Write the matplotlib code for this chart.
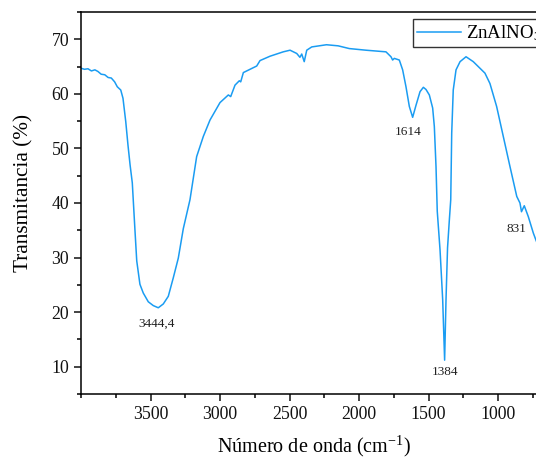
import numpy as np
import matplotlib.pyplot as plt
from matplotlib.ticker import MultipleLocator

plt.rcParams['font.family'] = ['Liberation Serif', 'DejaVu Serif']
plt.rcParams['mathtext.default'] = 'regular'

# FTIR spectrum of ZnAlNO3 (wavenumber in cm-1, transmittance in %)
wavenumber = [4000, 3975, 3950, 3925, 3900, 3878, 3855, 3829, 3805, 3782, 3758,
              3739, 3714, 3698, 3678, 3662, 3647, 3631, 3612, 3599, 3576, 3552,
              3516, 3480, 3444, 3408, 3372, 3336, 3300, 3264, 3216, 3168, 3120,
              3072, 3000, 2940, 2923, 2892, 2861, 2851, 2832, 2736, 2712, 2640,
              2545, 2496, 2448, 2425, 2412, 2394, 2376, 2340, 2234, 2150, 2070,
              1950, 1806, 1770, 1758, 1746, 1710, 1686, 1662, 1638, 1614, 1590,
              1561, 1537, 1518, 1494, 1470, 1458, 1446, 1437, 1417, 1398, 1384,
              1374, 1363, 1350, 1340, 1333, 1322, 1302, 1273, 1230, 1178, 1094,
              1058, 1010, 962, 914, 865, 842, 831, 811, 782, 746, 727, 700]
transmittance = [64.7, 64.5, 64.6, 64.2, 64.4, 64.1, 63.6, 63.5, 63.0, 62.9, 62.2,
                 61.3, 60.7, 59.2, 54.9, 50.6, 47.0, 43.7, 35.1, 29.4, 25.1, 23.5,
                 21.9, 21.2, 20.8, 21.5, 22.9, 26.3, 29.9, 35.3, 40.6, 48.5, 52.2,
                 55.2, 58.4, 59.8, 59.5, 61.6, 62.4, 62.2, 63.9, 65.1, 66.1, 66.9,
                 67.7, 68.0, 67.4, 66.7, 67.3, 65.9, 68.0, 68.6, 69.0, 68.8, 68.3,
                 68.0, 67.7, 66.8, 66.2, 66.5, 66.2, 64.4, 61.3, 57.7, 55.7, 57.9,
                 60.4, 61.2, 60.8, 59.8, 57.4, 54.0, 46.7, 38.5, 31.4, 22.3, 11.2,
                 22.3, 31.8, 36.9, 40.6, 52.8, 60.7, 64.4, 65.9, 66.8, 65.9, 63.8,
                 61.9, 57.7, 52.2, 46.7, 41.2, 40.0, 38.4, 39.5, 37.5, 34.5, 33.2, 31.5]

# labelled absorption bands and where their labels sit
peak_labels = ['3444,4', '1614', '1384', '831']
peak_text_x = [3455, 1644, 1379, 870]
peak_text_y = [17.9, 53.0, 9.1, 35.3]

fig = plt.figure(figsize=(5.36, 4.57), dpi=100)
ax = fig.add_axes([81 / 536, 63 / 457, 486.5 / 536, 382 / 457])

ax.plot(wavenumber, transmittance, color='#1a9cf2', lw=1.1, label='ZnAlNO$_3$')

for txt, tx, ty in zip(peak_labels, peak_text_x, peak_text_y):
    ax.text(tx, ty, txt, ha='center', va='center', fontsize=9.5, color='#222222')

ax.set_xlim(4000, 500)
ax.set_ylim(5, 75)
ax.set_xticks([3500, 3000, 2500, 2000, 1500, 1000])
ax.xaxis.set_minor_locator(MultipleLocator(250))
ax.yaxis.set_major_locator(MultipleLocator(10))
ax.yaxis.set_minor_locator(MultipleLocator(5))
ax.tick_params(which='major', direction='out', length=5, width=1.1,
               labelsize=12.8, colors='#111111', top=False, right=False)
ax.tick_params(which='minor', direction='out', length=3, width=1.1,
               top=False, right=False)
for s in ax.spines.values():
    s.set_linewidth(1.1)

ax.set_xlabel('Número de onda (cm$^{-1}$)', fontsize=14.5)
ax.set_ylabel('Transmitancia (%)', fontsize=15.3)
ax.xaxis.set_label_coords(0.479, -0.105)
ax.yaxis.set_label_coords(-0.097, 0.526)

leg = ax.legend(loc='upper left', bbox_to_anchor=(0.683, 0.9817), borderaxespad=0,
                fontsize=13.6, handlelength=2.3, handletextpad=0.25,
                fancybox=False, framealpha=1, edgecolor='#333333', borderpad=0.22)
leg.get_frame().set_linewidth(1.0)

fig.savefig('out.png', dpi=100)
